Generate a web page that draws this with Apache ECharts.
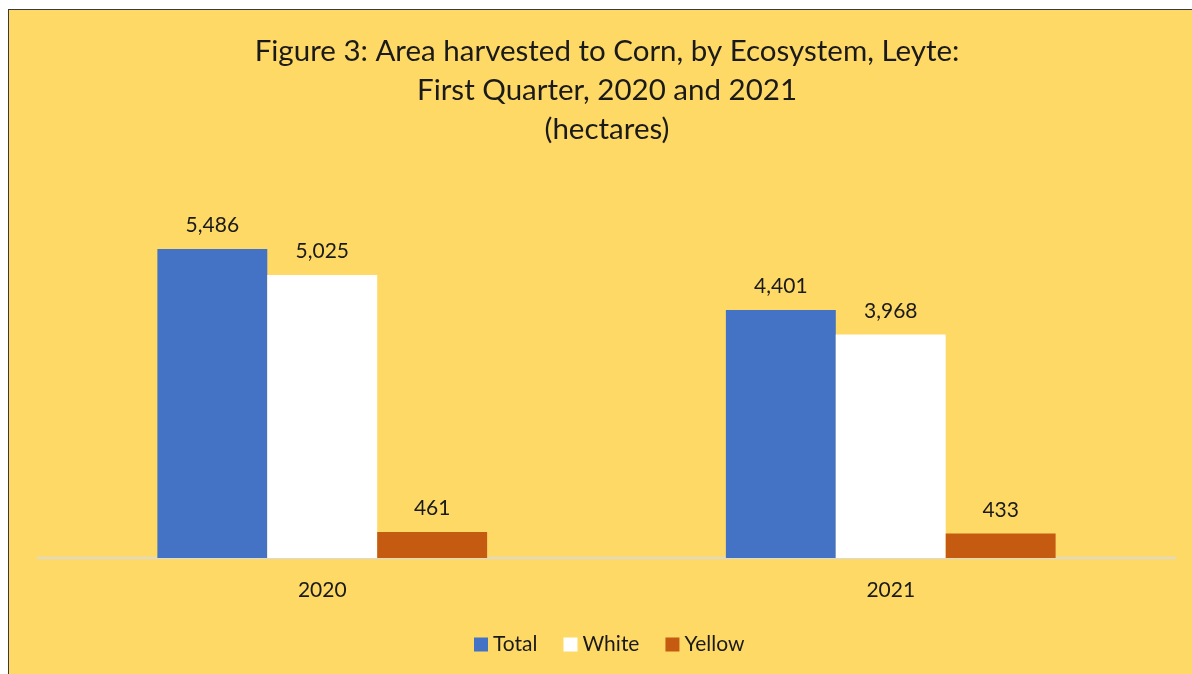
<!DOCTYPE html>
<html><head><meta charset="utf-8">
<script src="https://cdn.jsdelivr.net/npm/echarts@6/dist/echarts.min.js"></script>
<style>
html,body{margin:0;padding:0;background:#fff;overflow:hidden;}
#box{position:absolute;left:8px;top:9px;width:1300px;height:800px;background:#FED966;border:1px solid #3a3a3a;}
#chart{position:absolute;left:0;top:0;width:1192px;height:674px;}
</style></head>
<body>
<div id="box"></div>
<div id="chart"></div>
<script>
const categories = ['2020', '2021'];
const seriesNames = ['Total', 'White', 'Yellow'];
const totalValues = [5486, 4401];
const whiteValues = [5025, 3968];
const yellowValues = [461, 433];
const titleLines = ['Figure 3: Area harvested to Corn, by Ecosystem, Leyte:', 'First Quarter, 2020 and 2021', '(hectares)'];

const colors = ['#4472C4', '#FFFFFF', '#C55A11'];
const font = 'Lato';
const chart = echarts.init(document.getElementById('chart'));
const mk = (name, data, color) => ({
  name, type: 'bar', data, barGap: '0%', barCategoryGap: '42%',
  itemStyle: { color },
  label: { show: true, position: 'top', distance: 13, color: '#1a1a1a', fontSize: 21, fontFamily: font,
    formatter: p => p.value.toLocaleString('en-US') }
});
chart.setOption({
  backgroundColor: 'transparent',
  animation: false,
  title: { text: titleLines.join('\n'), left: 602, textAlign: 'center', top: 27,
    textStyle: { fontFamily: font, fontSize: 29.5, fontWeight: 'normal', color: '#1a1a1a', lineHeight: 39 } },
  grid: { left: 38, right: 17, top: 220, bottom: 116 },
  xAxis: { type: 'category', data: categories,
    axisLine: { lineStyle: { color: '#D9D9D9', width: 2 } }, axisTick: { show: false },
    axisLabel: { fontFamily: font, fontSize: 21, color: '#1a1a1a', margin: 22 } },
  yAxis: { type: 'value', min: 0, max: 6000, show: false, splitLine: { show: false } },
  legend: { bottom: 19, left: 474, padding: 0, itemWidth: 14, itemHeight: 14, itemGap: 26,
    icon: 'rect', textStyle: { fontFamily: font, fontSize: 21, color: '#1a1a1a', padding: [0,0,0,0] }, data: seriesNames },
  series: [mk(seriesNames[0], totalValues, colors[0]), mk(seriesNames[1], whiteValues, colors[1]), mk(seriesNames[2], yellowValues, colors[2])]
});
</script>
</body></html>
